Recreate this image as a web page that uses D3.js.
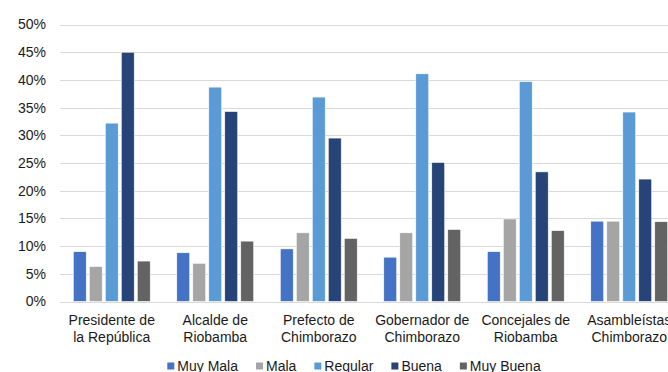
<!DOCTYPE html>
<html>
<head>
<meta charset="utf-8">
<script src="https://cdn.jsdelivr.net/npm/d3@7"></script>
<style>
  html, body { margin: 0; padding: 0; background: #fff; overflow: hidden; }
  text { font-family: "Liberation Sans", Arial, sans-serif; }
</style>
</head>
<body>
<svg id="chart" width="668" height="372"></svg>
<script>
const categories = [
  ["Presidente de", "la República"],
  ["Alcalde de", "Riobamba"],
  ["Prefecto de", "Chimborazo"],
  ["Gobernador de", "Chimborazo"],
  ["Concejales de", "Riobamba"],
  ["Asambleístas", "Chimborazo"]
];
const seriesNames = ["Muy Mala", "Mala", "Regular", "Buena", "Muy Buena"];
const muyMala  = [9.0, 8.8, 9.5, 8.0, 9.0, 14.5];
const mala     = [6.3, 6.9, 12.4, 12.4, 14.9, 14.5];
const regular  = [32.2, 38.7, 36.9, 41.1, 39.7, 34.2];
const buena    = [45.0, 34.3, 29.5, 25.1, 23.4, 22.1];
const muyBuena = [7.3, 10.9, 11.4, 13.0, 12.8, 14.4];
const seriesValues = [muyMala, mala, regular, buena, muyBuena];
const colors = ["#4472C4", "#A5A5A5", "#5B9BD5", "#264478", "#636363"];
const yTicks = [0, 5, 10, 15, 20, 25, 30, 35, 40, 45, 50];

(function () {
const svg = d3.select("#chart");
const mLeft = 60, mRight = 681, mTop = 24.5, mBottom = 301.5;

const catKeys = categories.map(c => c.join(" "));
const x0 = d3.scaleBand().domain(catKeys).range([mLeft, mRight]).padding(0);
const x1 = d3.scaleBand().domain(seriesNames).range([0, x0.bandwidth()])
  .paddingInner(0.19).paddingOuter(0.83);
const y = d3.scaleLinear().domain([0, 50]).range([mBottom, mTop]);

// gridlines
svg.append("g").selectAll("line").data(yTicks).join("line")
  .attr("x1", mLeft).attr("x2", mRight)
  .attr("y1", d => Math.round(y(d)) + 0.5).attr("y2", d => Math.round(y(d)) + 0.5)
  .attr("stroke", "#d9d9d9").attr("stroke-width", 1);

// y axis labels
const yAxis = d3.axisLeft(y).tickValues(yTicks).tickFormat(d => d + "%").tickSize(0).tickPadding(0);
const gy = svg.append("g").attr("transform", `translate(46,0)`).call(yAxis);
gy.select(".domain").remove();
gy.selectAll("text").attr("font-size", 14).attr("fill", "#1a1a1a")
  .attr("font-family", "'Liberation Sans', Arial, sans-serif");

// bars
const groups = svg.append("g").selectAll("g").data(catKeys).join("g")
  .attr("transform", d => `translate(${x0(d)},0)`);
groups.selectAll("rect")
  .data((d, i) => seriesNames.map((s, j) => ({ s, j, v: seriesValues[j][i] })))
  .join("rect")
  .attr("x", d => x1(d.s))
  .attr("width", x1.bandwidth())
  .attr("y", d => y(d.v))
  .attr("height", d => y(0) - y(d.v))
  .attr("fill", d => colors[d.j])
  .attr("stroke", "#fff").attr("stroke-width", 0.6);

// x labels
const xl = svg.append("g").selectAll("text").data(categories).join("text")
  .attr("x", (d, i) => x0(catKeys[i]) + x0.bandwidth() / 2)
  .attr("y", 324.5)
  .attr("text-anchor", "middle")
  .attr("font-size", 14).attr("fill", "#1a1a1a");
xl.selectAll("tspan").data(d => d).join("tspan")
  .attr("x", function () { return d3.select(this.parentNode).attr("x"); })
  .attr("dy", (d, i) => i === 0 ? 0 : 17)
  .text(d => d);

// legend
const lg = svg.append("g");
let lx = 167.3;
seriesNames.forEach((s, i) => {
  lg.append("rect").attr("x", lx).attr("y", 362.5).attr("width", 7).attr("height", 7)
    .attr("fill", colors[i]);
  const t = lg.append("text").attr("x", lx + 10).attr("y", 371)
    .attr("font-size", 14).attr("fill", "#1a1a1a").text(s);
  lx += 10 + t.node().getComputedTextLength() + 18;
});
})();
</script>
</body>
</html>
